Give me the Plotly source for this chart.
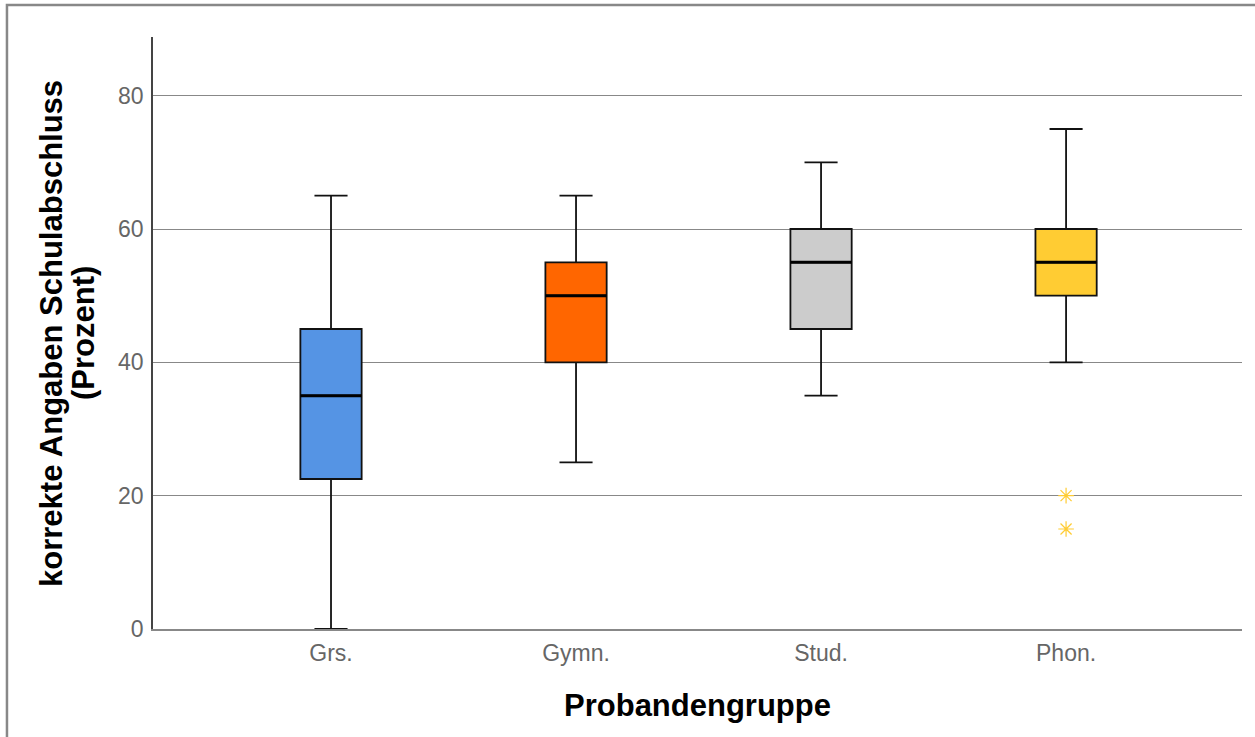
import plotly.graph_objects as go

categories = ["Grs.", "Gymn.", "Stud.", "Phon."]
lower = [0, 25, 35, 40]
q1 = [22.5, 40, 45, 50]
median = [35, 50, 55, 55]
q3 = [45, 55, 60, 60]
upper = [65, 65, 70, 75]
colors = ["#5594E4", "#FF6600", "#CCCCCC", "#FFCC33"]
outlier_cat = ["Phon.", "Phon."]
outlier_val = [20, 15]
y_title_lines = ["korrekte Angaben Schulabschluss", "(Prozent)"]

fig = go.Figure()
for i, c in enumerate(categories):
    fig.add_trace(go.Box(
        x=[c], q1=[q1[i]], median=[median[i]], q3=[q3[i]],
        lowerfence=[lower[i]], upperfence=[upper[i]],
        fillcolor=colors[i], line=dict(color="#111111", width=1.8),
        width=0.25, whiskerwidth=0.54, boxpoints=False, showlegend=False,
        hoverinfo="skip",
    ))
    # thicker median line
    fig.add_trace(go.Box(
        x=[c], q1=[median[i]], median=[median[i]], q3=[median[i]],
        lowerfence=[median[i]], upperfence=[median[i]],
        fillcolor="rgba(0,0,0,0)", line=dict(color="#000000", width=3),
        width=0.25, whiskerwidth=0, boxpoints=False, showlegend=False,
        hoverinfo="skip",
    ))

fig.add_trace(go.Scatter(
    x=outlier_cat, y=outlier_val, mode="markers",
    marker=dict(symbol="asterisk-open", size=13, color="#FFCC33",
                line=dict(color="#FFCC33", width=1.2)),
    showlegend=False,
))

fig.update_layout(
    width=1255, height=737,
    margin=dict(l=153, r=13, t=37, b=108),
    paper_bgcolor="white", plot_bgcolor="white",
    font=dict(family="Liberation Sans, Arial, sans-serif"),
    boxmode="overlay",
    xaxis=dict(
        type="category", categoryorder="array", categoryarray=categories,
        range=[-0.7265, 3.718], showgrid=False, zeroline=False,
        showline=True, linecolor="#888888", linewidth=2,
        tickfont=dict(size=23, color="#666666"), ticks="", ticklabelstandoff=2,
        title=dict(text="<b>Probandengruppe</b>", font=dict(size=31, color="#000000"), standoff=30),
    ),
    yaxis=dict(
        range=[0, 88.8], tickvals=[0, 20, 40, 60, 80],
        showgrid=True, gridcolor="#888888", gridwidth=1.3, zeroline=False,
        showline=True, linecolor="#444444", linewidth=1.5,
        tickfont=dict(size=23, color="#666666"), ticks="", ticklabelstandoff=3,
    ),
    annotations=[
        dict(text="<b>" + y_title_lines[0] + "</b>", xref="paper", yref="paper",
             x=-0.0937, y=0.5, xanchor="center", yanchor="middle", textangle=-90,
             showarrow=False, font=dict(size=31, color="#000000")),
        dict(text="<b>" + y_title_lines[1] + "</b>", xref="paper", yref="paper",
             x=-0.0643, y=0.5, xanchor="center", yanchor="middle", textangle=-90,
             showarrow=False, font=dict(size=31, color="#000000")),
    ],
    shapes=[dict(type="rect", xref="paper", yref="paper",
                 x0=-0.1341, x1=1.05, y0=-0.3, y1=1.0541,
                 line=dict(color="#888888", width=2.5), layer="below")],
)

fig.write_html("out.html", config={"displayModeBar": False},
               post_script="document.body.style.margin='0px';")
